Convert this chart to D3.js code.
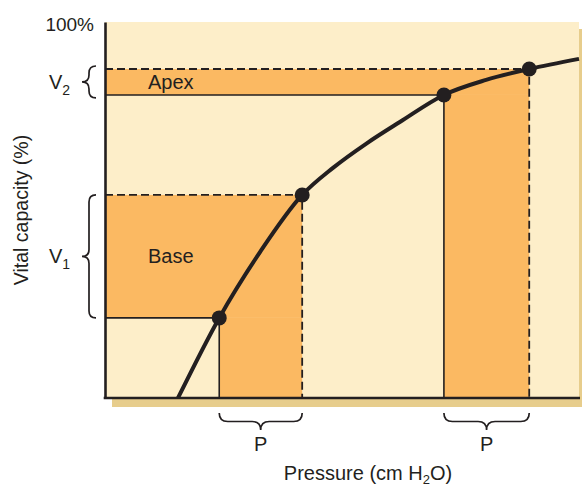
<!DOCTYPE html>
<html>
<head>
<meta charset="utf-8">
<script src="https://cdn.jsdelivr.net/npm/d3@7"></script>
<style>
  html, body { margin: 0; padding: 0; background: #fff; }
  svg { display: block; }
  text { font-family: "Liberation Sans", Arial, Helvetica, sans-serif; fill: #231f20; }
</style>
</head>
<body>
<svg id="chart" width="582" height="487"></svg>
<script>
// Pressure–volume curve of the lung (pressure in arbitrary units, volume in % VC)
const pressure = [15.4, 24.1, 32.7, 41.6, 48.1, 55.3, 62.2, 71.5, 80.4, 89.5, 100];
const volume   = [0, 21.3, 38.8, 54.0, 61.2, 67.8, 73.4, 80.6, 84.6, 87.5, 90.2];

// Lung regions: same pressure swing P, different volume change V
const regions      = ["Base", "Apex"];
const volumeLabels = ["1", "2"];          // subscripts of V
const pressureLow  = [24.1, 71.5];
const pressureHigh = [41.6, 89.5];
const volumeLow    = [21.3, 80.6];
const volumeHigh   = [54.0, 87.5];

const yTickLabel = "100%";
const xTitle = "Pressure (cm H";
const yTitle = "Vital capacity (%)";

const ink = "#231f20", cream = "#fdeec9", orange = "#fbb962", tan = "#e7cd8c";

const svg = d3.select("#chart");
const margin = { left: 105, top: 22, right: 3, bottom: 89 };
const W = 582, H = 487;

const x = d3.scaleLinear().domain([0, 100]).range([margin.left, W - margin.right]);
const y = d3.scaleLinear().domain([0, 100]).range([H - margin.bottom, margin.top]);

// drop shadow and panel
svg.append("rect")
  .attr("x", x(0) + 7).attr("y", y(100) + 7)
  .attr("width", x(100) - x(0)).attr("height", y(0) - y(100) + 2)
  .attr("fill", tan);
svg.append("rect")
  .attr("x", x(0)).attr("y", y(100))
  .attr("width", x(100) - x(0)).attr("height", y(0) - y(100))
  .attr("fill", cream);

// L-shaped shaded areas for each region
const fills = svg.append("g").attr("fill", orange);
regions.forEach((r, i) => {
  fills.append("rect")
    .attr("x", x(0)).attr("y", y(volumeHigh[i]))
    .attr("width", x(pressureHigh[i]) - x(0))
    .attr("height", y(volumeLow[i]) - y(volumeHigh[i]));
  fills.append("rect")
    .attr("x", x(pressureLow[i])).attr("y", y(volumeLow[i]))
    .attr("width", x(pressureHigh[i]) - x(pressureLow[i]))
    .attr("height", y(0) - y(volumeLow[i]));
});

// guide lines: solid at the start, dashed at the end of each breath
const guides = svg.append("g").attr("stroke", ink).attr("fill", "none");
regions.forEach((r, i) => {
  guides.append("path")
    .attr("stroke-width", 1.6)
    .attr("d", `M${x(0)},${y(volumeLow[i])}H${x(pressureLow[i])}V${y(0)}`);
  guides.append("path")
    .attr("stroke-width", 1.8)
    .attr("stroke-dasharray", "8,4")
    .attr("d", `M${x(0)},${y(volumeHigh[i])}H${x(pressureHigh[i])}V${y(0)}`);
});

// region labels
svg.append("text").attr("x", 148).attr("y", y(volumeLow[1]) - 6)
  .attr("font-size", 20).text(regions[1]);
svg.append("text").attr("x", 148).attr("y", 263)
  .attr("font-size", 20).text(regions[0]);

// axes (lines only)
svg.append("g").attr("transform", `translate(${x(0)},0)`)
  .call(d3.axisLeft(y).tickValues([]).tickSizeOuter(0))
  .call(g => g.select(".domain").attr("stroke", ink).attr("stroke-width", 2.6));
svg.append("g").attr("transform", `translate(0,${y(0)})`)
  .call(d3.axisBottom(x).tickValues([]).tickSizeOuter(0))
  .call(g => g.select(".domain").attr("stroke", ink).attr("stroke-width", 2.6)
    .attr("d", `M${x(0) - 1.3},0H${x(100) + 1}`));

// pressure–volume curve
const line = d3.line().x(d => x(d[0])).y(d => y(d[1])).curve(d3.curveMonotoneX);
svg.append("path")
  .datum(pressure.map((p, i) => [p, volume[i]]))
  .attr("d", line)
  .attr("fill", "none").attr("stroke", ink).attr("stroke-width", 4);

// operating points
const pts = [];
regions.forEach((r, i) => {
  pts.push([pressureLow[i], volumeLow[i]], [pressureHigh[i], volumeHigh[i]]);
});
svg.append("g").selectAll("circle").data(pts).join("circle")
  .attr("cx", d => x(d[0])).attr("cy", d => y(d[1])).attr("r", 7.5)
  .attr("fill", ink);

// curly braces
function braceV(bx, y1, y2, w) {
  const m = (y1 + y2) / 2, h = w / 2;
  return `M${bx},${y1} Q${bx - h},${y1} ${bx - h},${y1 + h} L${bx - h},${m - h} ` +
         `Q${bx - h},${m} ${bx - w},${m} Q${bx - h},${m} ${bx - h},${m + h} ` +
         `L${bx - h},${y2 - h} Q${bx - h},${y2} ${bx},${y2}`;
}
function braceH(by, x1, x2, w) {
  const m = (x1 + x2) / 2, h = w / 2;
  return `M${x1},${by} Q${x1},${by + h} ${x1 + h},${by + h} L${m - h},${by + h} ` +
         `Q${m},${by + h} ${m},${by + w} Q${m},${by + h} ${m + h},${by + h} ` +
         `L${x2 - h},${by + h} Q${x2},${by + h} ${x2},${by}`;
}
const braces = svg.append("g").attr("fill", "none").attr("stroke", ink).attr("stroke-width", 1.7);
regions.forEach((r, i) => {
  const y1 = y(volumeHigh[i]) - (i === 1 ? 3 : 0), y2 = y(volumeLow[i]) + (i === 1 ? 3 : 0);
  braces.append("path").attr("d", braceV(96, y1, y2, 14));
  const t = svg.append("text").attr("x", 49).attr("y", (y1 + y2) / 2 + 7).attr("font-size", 20);
  t.append("tspan").text("V");
  t.append("tspan").attr("font-size", 14).attr("dy", 6).text(volumeLabels[i]);

  braces.append("path").attr("d", braceH(413, x(pressureLow[i]), x(pressureHigh[i]), 17));
  svg.append("text").attr("x", (x(pressureLow[i]) + x(pressureHigh[i])) / 2).attr("y", 451)
    .attr("text-anchor", "middle").attr("font-size", 20).text("P");
});

// tick label and axis titles
svg.append("text").attr("x", 94).attr("y", 31).attr("text-anchor", "end")
  .attr("font-size", 19).text(yTickLabel);

const xt = svg.append("text").attr("x", 368).attr("y", 480)
  .attr("text-anchor", "middle").attr("font-size", 20);
xt.append("tspan").text(xTitle);
xt.append("tspan").attr("font-size", 13).attr("dy", 4).text("2");
xt.append("tspan").attr("dy", -4).text("O)");

svg.append("text")
  .attr("transform", `translate(28,${(y(0) + y(100)) / 2}) rotate(-90)`)
  .attr("text-anchor", "middle").attr("font-size", 19.5).text(yTitle);
</script>
</body>
</html>
